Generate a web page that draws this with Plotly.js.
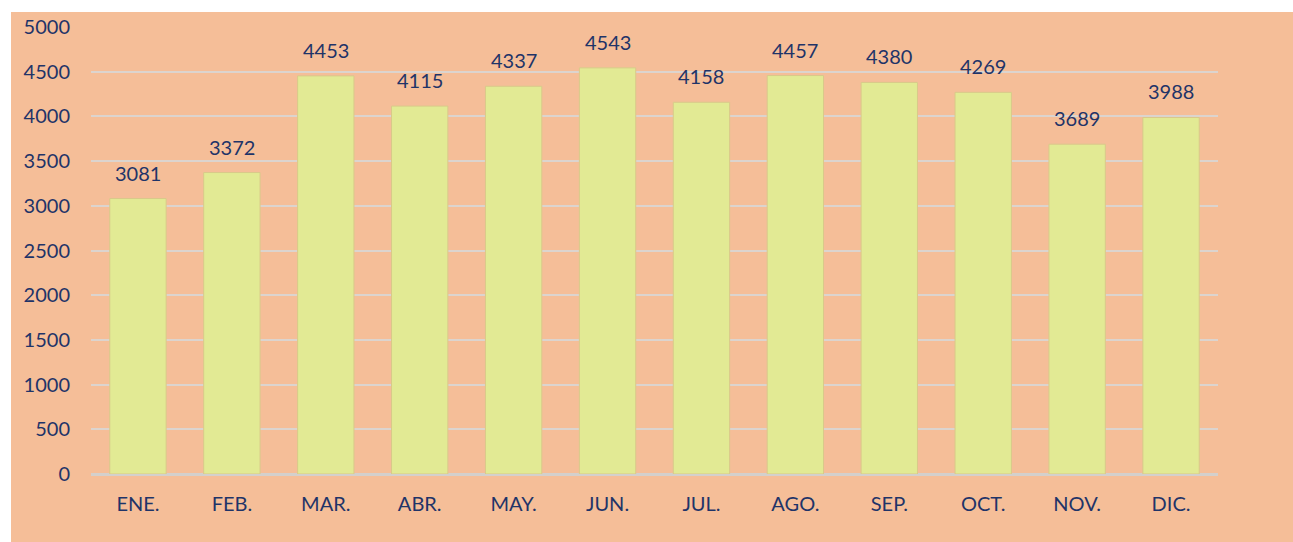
<!DOCTYPE html>
<html><head><meta charset="utf-8">
<script src="https://cdn.plot.ly/plotly-3.0.1.min.js"></script>
<style>
html,body{margin:0;padding:0;background:#ffffff;width:1293px;height:542px;overflow:hidden;}
#chart{position:absolute;left:11px;top:12px;width:1282px;height:530px;}
</style></head>
<body><div id="chart"></div>
<script>
const months = ["ENE.","FEB.","MAR.","ABR.","MAY.","JUN.","JUL.","AGO.","SEP.","OCT.","NOV.","DIC."];
const values = [3081,3372,4453,4115,4337,4543,4158,4457,4380,4269,3689,3988];
const yTicks = [0,500,1000,1500,2000,2500,3000,3500,4000,4500,5000];

const navy = "#1F3468";
const fontFam = "Lato, 'Open Sans', sans-serif";

const trace = {
  type: "bar",
  x: months,
  y: values,
  marker: {color: "#E2EA94", line: {color: "#D9C98A", width: 1}},
  width: 0.6,
  hoverinfo: "x+y"
};

const annotations = months.map((m, i) => ({
  x: m, y: values[i], xref: "x", yref: "y",
  text: String(values[i]), showarrow: false,
  yanchor: "bottom", yshift: 12,
  font: {family: fontFam, size: 20, color: navy}
}));

const layout = {
  width: 1282, height: 530,
  paper_bgcolor: "#F5BE98",
  plot_bgcolor: "#F5BE98",
  margin: {l: 80, r: 75, t: 15, b: 68},
  showlegend: false,
  font: {family: fontFam, size: 20, color: navy},
  xaxis: {
    type: "category",
    showgrid: false,
    showline: false,
    ticks: "",
    ticklabelstandoff: 16,
    tickfont: {family: fontFam, size: 20, color: navy}
  },
  yaxis: {
    range: [0, 5000],
    tickvals: yTicks,
    ticktext: yTicks.map(String),
    showgrid: true,
    gridcolor: "#DCD4CE",
    gridwidth: 2,
    zeroline: true,
    zerolinecolor: "#D4D0CC",
    zerolinewidth: 3,
    showline: false,
    ticks: "",
    ticklabelstandoff: 20,
    tickfont: {family: fontFam, size: 20, color: navy}
  },
  annotations: annotations
};

Plotly.newPlot("chart", [trace], layout, {displayModeBar: false, staticPlot: true});
</script></body></html>
